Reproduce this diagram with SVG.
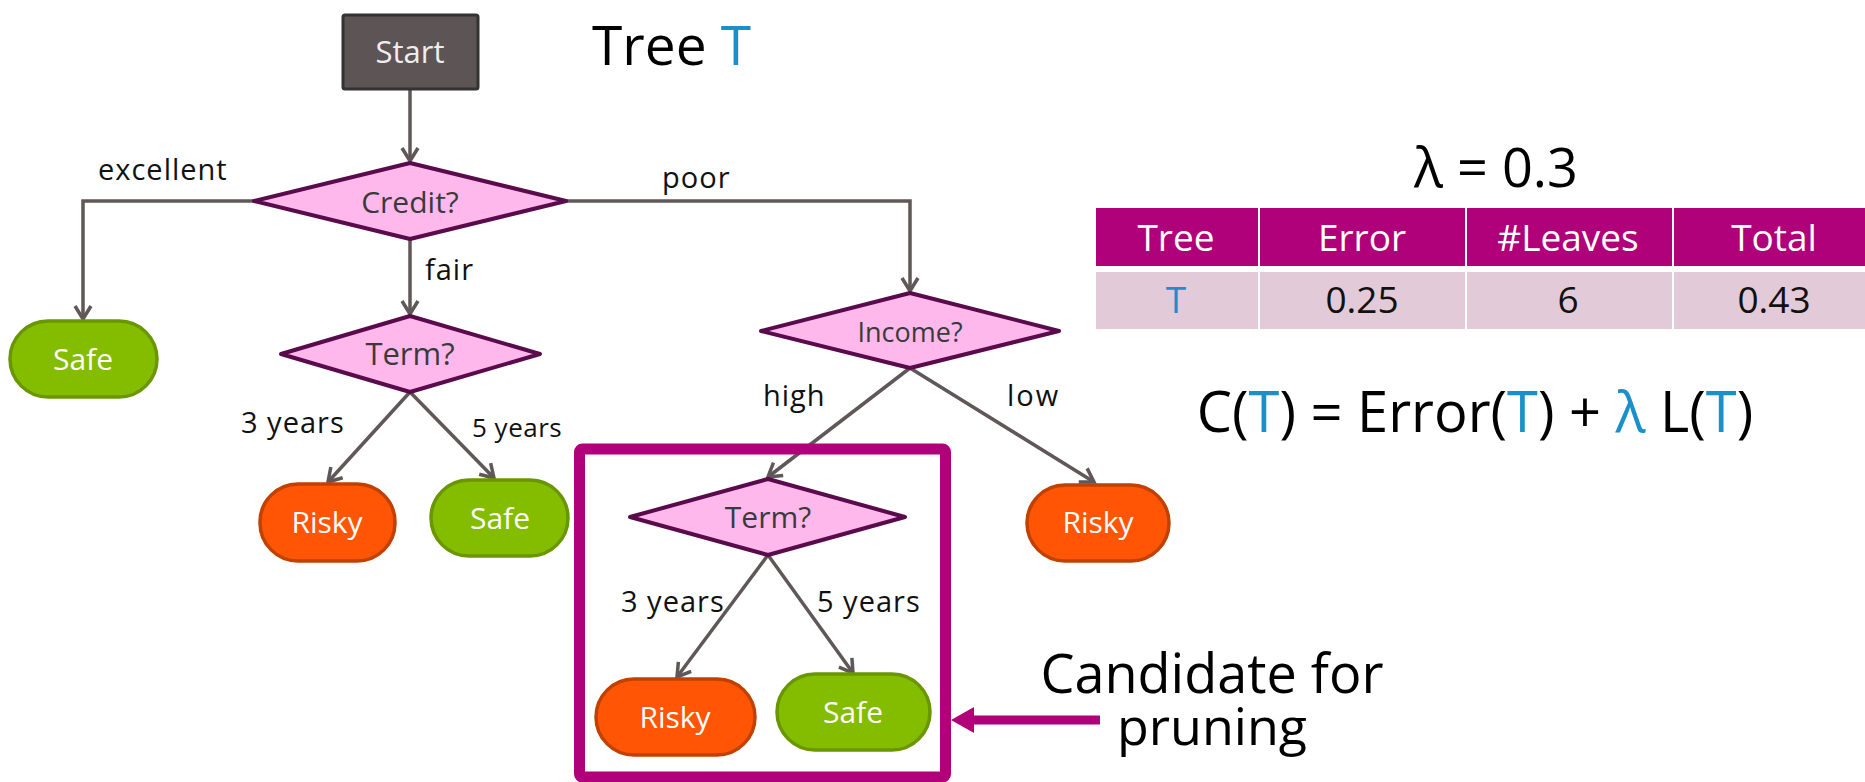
<svg xmlns="http://www.w3.org/2000/svg" width="1865" height="782" viewBox="0 0 1865 782">
<style>
text{font-family:"Open Sans",Lato,"Liberation Sans",sans-serif;}
.edge{fill:none;stroke:#5F5758;stroke-width:3.5;marker-end:url(#chev);}
.dia{fill:#FFB8EC;stroke:#5A0B4B;stroke-width:4;stroke-linejoin:round;}
.dtxt{fill:#3A3A3A;text-anchor:middle;}
.safe{fill:#84BC00;stroke:#6A9600;stroke-width:3.5;}
.risky{fill:#FF5505;stroke:#C04100;stroke-width:3.5;}
.ltxt{fill:#FFFFFF;font-size:30px;text-anchor:middle;}
.lbl{fill:#111;font-size:29px;letter-spacing:1px;}
.big{fill:#000;font-size:54px;}
.th{fill:#B0007A;}
.td{fill:#E3CAD8;}
.tht{fill:#fff;font-size:37px;text-anchor:middle;}
.tdt{fill:#111;font-size:37px;text-anchor:middle;}
text .blue, text.blue, .blue{fill:#1B8FC9;}
</style>
<defs>
<marker id="chev" markerUnits="userSpaceOnUse" viewBox="-16 -11 19 22" markerWidth="19" markerHeight="22" refX="0" refY="0" orient="auto">
<path d="M-13,-8 L0,0 L-13,8" fill="none" stroke="#5F5758" stroke-width="3.5" stroke-linejoin="miter"/>
</marker>
</defs>

<g id="connectors">
<path class="edge" d="M410,89 L410,161"/>
<path class="edge" d="M254,201 L83,201 L83,319"/>
<path class="edge" d="M410,239 L410,314"/>
<path class="edge" d="M566,201 L910,201 L910,291"/>
<path class="edge" d="M410,392 L328,482"/>
<path class="edge" d="M410,392 L494,478"/>
<path class="edge" d="M910,368 L768,477"/>
<path class="edge" d="M910,368 L1094,482"/>
<path class="edge" d="M768,555 L677,677"/>
<path class="edge" d="M768,555 L853,673"/>
</g>

<g id="edge-labels">
<text class="lbl" x="98" y="180">excellent</text>
<text class="lbl" x="425" y="280">fair</text>
<text class="lbl" x="662" y="188">poor</text>
<text class="lbl" x="241" y="433">3 years</text>
<text class="lbl" x="472" y="437" style="font-size:26px;letter-spacing:0.5px">5 years</text>
<text class="lbl" x="763" y="406">high</text>
<text class="lbl" x="1007" y="406" style="letter-spacing:2px">low</text>
<text class="lbl" x="621" y="612">3 years</text>
<text class="lbl" x="817" y="612">5 years</text>
</g>

<g id="start">
<rect x="343" y="15" width="135" height="74" fill="#5D5455" stroke="#333" stroke-width="3" rx="2"/>
<text x="410" y="63" fill="#EEEEEE" font-size="31" text-anchor="middle">Start</text>
</g>

<g id="credit">
<polygon class="dia" points="410,163 566,201 410,239 254,201"/>
<text class="dtxt" x="410" y="213" font-size="30">Credit?</text>
</g>

<g id="safe1">
<rect class="safe" x="10" y="321" width="147" height="76" rx="38"/>
<text class="ltxt" x="83" y="370">Safe</text>
</g>

<g id="term1">
<polygon class="dia" points="410,316 540,354 410,392 281,354"/>
<text class="dtxt" x="410" y="365" font-size="31">Term?</text>
</g>

<g id="risky1">
<rect class="risky" x="260" y="484" width="135" height="77" rx="38"/>
<text class="ltxt" x="327" y="533">Risky</text>
</g>

<g id="safe2">
<rect class="safe" x="431" y="480" width="137" height="76" rx="38"/>
<text class="ltxt" x="500" y="529">Safe</text>
</g>

<g id="income">
<polygon class="dia" points="910,293 1059,331 910,368 761,331"/>
<text class="dtxt" x="910" y="342" font-size="27">Income?</text>
</g>

<g id="risky2">
<rect class="risky" x="1027" y="485" width="142" height="76" rx="38"/>
<text class="ltxt" x="1098" y="533">Risky</text>
</g>

<g id="term2">
<polygon class="dia" points="768,479 905,517 768,555 630,517"/>
<text class="dtxt" x="768" y="528" font-size="30">Term?</text>
</g>

<g id="risky3">
<rect class="risky" x="596" y="679" width="159" height="76" rx="38"/>
<text class="ltxt" x="675" y="728">Risky</text>
</g>

<g id="safe3">
<rect class="safe" x="777" y="674" width="153" height="76" rx="38"/>
<text class="ltxt" x="853" y="723">Safe</text>
</g>

<g id="prune-box">
<rect x="579.5" y="449" width="366" height="328" fill="none" stroke="#B0007A" stroke-width="11" rx="3"/>
</g>

<g id="prune-arrow">
<line x1="972" y1="720" x2="1100" y2="720" stroke="#B0007A" stroke-width="9"/>
<polygon points="951,720 974,707 974,733" fill="#B0007A"/>
</g>

<g id="title">
<text class="big" x="592" y="65" style="font-size:55px">Tree <tspan class="blue">T</tspan></text>
</g>

<g id="lambda">
<text class="big" x="1496" y="187" text-anchor="middle" style="font-size:54px">λ = 0.3</text>
</g>

<g id="table">
<rect class="th" x="1096" y="208" width="162" height="58"/>
<rect class="th" x="1260" y="208" width="205" height="58"/>
<rect class="th" x="1467" y="208" width="205" height="58"/>
<rect class="th" x="1674" y="208" width="191" height="58"/>
<rect class="td" x="1096" y="272" width="162" height="57"/>
<rect class="td" x="1260" y="272" width="205" height="57"/>
<rect class="td" x="1467" y="272" width="205" height="57"/>
<rect class="td" x="1674" y="272" width="191" height="57"/>
<text class="tht" x="1176" y="251">Tree</text>
<text class="tht" x="1362" y="251">Error</text>
<text class="tht" x="1568" y="251">#Leaves</text>
<text class="tht" x="1774" y="251">Total</text>
<text class="tdt" x="1176" y="313"><tspan class="blue">T</tspan></text>
<text class="tdt" x="1362" y="313">0.25</text>
<text class="tdt" x="1568" y="313">6</text>
<text class="tdt" x="1774" y="313">0.43</text>
</g>

<g id="formula">
<text class="big" x="1475" y="432" text-anchor="middle" style="font-size:56px">C(<tspan class="blue">T</tspan>) = Error(<tspan class="blue">T</tspan>) + <tspan class="blue">λ</tspan> L(<tspan class="blue">T</tspan>)</text>
</g>

<g id="candidate">
<text class="big" x="1212" y="693" text-anchor="middle" style="font-size:54px">Candidate for</text>
<text class="big" x="1212" y="745" text-anchor="middle" style="font-size:52px">pruning</text>
</g>
</svg>
